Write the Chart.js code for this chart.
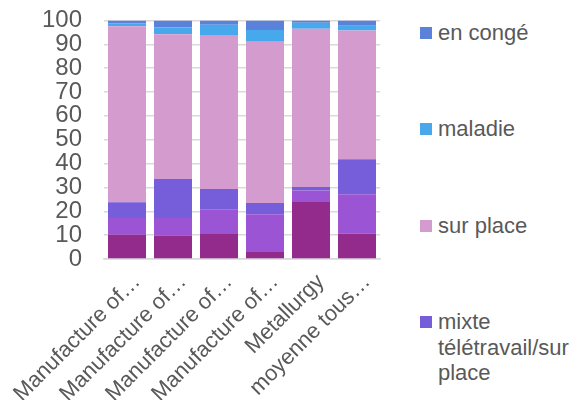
<!DOCTYPE html>
<html>
<head>
<meta charset="utf-8">
<script src="https://cdn.jsdelivr.net/npm/chart.js@4"></script>
<style>
  html, body { margin: 0; padding: 0; background: #fff; }
  #wrap { position: relative; width: 583px; height: 400px; overflow: hidden; }
  #chartBox { position: absolute; left: 0; top: 0; width: 400px; height: 400px; }
  #legend { position: absolute; left: 420px; top: 0; width: 163px; height: 400px;
            font-family: "Liberation Sans", Arial, sans-serif; font-size: 22px; color: #595959; }
  .item { position: absolute; left: 0; width: 163px; }
  .box { position: absolute; left: 0; width: 12px; height: 12px; }
  .txt { position: absolute; left: 18px; line-height: 25.5px; white-space: pre; }
</style>
</head>
<body>
<div id="wrap">
  <div id="chartBox"><canvas id="c"></canvas></div>
  <div id="legend"></div>
</div>
<script>
const categories = ["Manufacture of…", "Manufacture of…", "Manufacture of…", "Manufacture of…", "Metallurgy", "moyenne tous…"];
const yTicks = [0, 10, 20, 30, 40, 50, 60, 70, 80, 90, 100];

const serieA = [10.2, 9.8, 10.8, 2.9, 23.9, 10.6];
const serieB = [7.0, 7.4, 9.8, 15.9, 4.8, 16.5];
const mixte = [6.6, 16.3, 8.7, 4.7, 1.5, 14.7];
const surPlace = [73.7, 60.7, 64.3, 67.6, 66.3, 54.0];
const maladie = [1.3, 2.8, 4.6, 4.9, 2.5, 2.0];
const enConge = [1.2, 3.0, 1.8, 4.0, 1.0, 2.2];

const seriesNames = ["série A", "série B", "mixte télétravail/sur place", "sur place", "maladie", "en congé"];
const legendNames = ["en congé", "maladie", "sur place", "mixte\ntélétravail/sur\nplace"];
const colors = ["#922B8C", "#9B55D4", "#765DDA", "#D39BCE", "#47A8EC", "#5B82DB"];

const seriesValues = [serieA, serieB, mixte, surPlace, maladie, enConge];
const datasets = seriesValues.map((v, i) => ({
  label: seriesNames[i],
  data: v,
  backgroundColor: colors[i],
  borderWidth: 0,
  barPercentage: 0.826,
  categoryPercentage: 1.0
}));

const font = "'Liberation Sans', Arial, sans-serif";

new Chart(document.getElementById("c"), {
  type: "bar",
  data: { labels: categories, datasets: datasets },
  options: {
    responsive: true,
    maintainAspectRatio: false,
    animation: false,
    layout: { padding: { top: 0, right: 20, left: 0, bottom: 0 } },
    plugins: { legend: { display: false }, tooltip: { enabled: false } },
    scales: {
      x: {
        stacked: true,
        grid: { display: false, drawTicks: false },
        border: { display: true, color: "#d9d9d9", width: 1.5 },
        ticks: {
          color: "#595959",
          font: { family: font, size: 22 },
          minRotation: 45, maxRotation: 45,
          autoSkip: false,
          padding: 10,
          labelOffset: 10
        },
        afterFit: s => { s.height = 141; s.paddingLeft = 0; s.paddingRight = 0; }
      },
      y: {
        stacked: true,
        min: 0, max: 100,
        afterBuildTicks: s => { s.ticks = yTicks.map(v => ({ value: v })); },
        grid: { color: "#d9d9d9", lineWidth: 1.5, drawTicks: true, tickLength: 16, tickColor: "rgba(0,0,0,0)" },
        border: { display: false },
        ticks: {
          color: "#595959",
          font: { family: font, size: 24 },
          padding: 6,
          autoSkip: false,
          stepSize: 10
        },
        afterFit: s => { s.width = 104; }
      }
    }
  }
});

// legend built from the dataset arrays (reverse order, only labelled series)
const legendIdx = [5, 4, 3, 2];
const legendTops = [32.5, 129, 226, 322];
const lg = document.getElementById("legend");
legendIdx.forEach((di, k) => {
  const item = document.createElement("div");
  item.className = "item";
  item.style.top = (legendTops[k] - 6) + "px";
  const box = document.createElement("div");
  box.className = "box";
  box.style.background = colors[di];
  const txt = document.createElement("div");
  txt.className = "txt";
  txt.style.top = "-6.75px";
  txt.textContent = legendNames[k];
  item.appendChild(box);
  item.appendChild(txt);
  lg.appendChild(item);
});
</script>
</body>
</html>
